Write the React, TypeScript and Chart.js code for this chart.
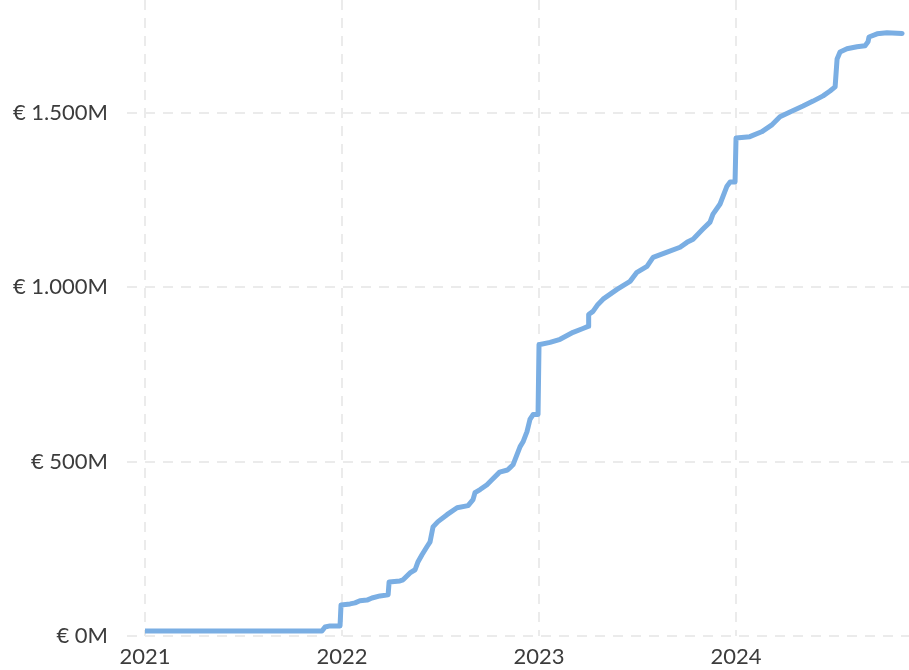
import React, { useEffect, useRef } from "react";
import { Chart, registerables } from "chart.js";

Chart.register(...registerables);

// Cumulative amount (million €) over time (decimal years)
const dates: number[] = [
  2021.0, 2021.5, 2021.898, 2021.914, 2021.939, 2021.99, 2021.995,
  2022.041, 2022.066, 2022.091, 2022.127, 2022.152, 2022.193, 2022.234, 2022.239,
  2022.294, 2022.31, 2022.345, 2022.371, 2022.386, 2022.406, 2022.431, 2022.447,
  2022.462, 2022.487, 2022.533, 2022.584, 2022.64, 2022.665, 2022.675, 2022.701,
  2022.736, 2022.761, 2022.8, 2022.84, 2022.853, 2022.868, 2022.904, 2022.919,
  2022.939, 2022.954, 2022.97, 2022.995, 2023.0,
  2023.005, 2023.056, 2023.107, 2023.173, 2023.223, 2023.249, 2023.252, 2023.274,
  2023.299, 2023.325, 2023.396, 2023.462, 2023.497, 2023.548, 2023.579, 2023.65,
  2023.716, 2023.751, 2023.782, 2023.832, 2023.868, 2023.883, 2023.919, 2023.954,
  2023.97, 2023.995, 2024.0,
  2024.07, 2024.13, 2024.18, 2024.223, 2024.274, 2024.34, 2024.391, 2024.442,
  2024.477, 2024.503, 2024.513, 2024.528, 2024.563, 2024.614, 2024.655, 2024.67,
  2024.675, 2024.716, 2024.766, 2024.843,
];

const amounts: number[] = [
  14, 14, 14, 26, 29, 29, 89,
  92, 95, 101, 103, 109, 115, 118, 155,
  158, 161, 181, 190, 213, 233, 256, 270,
  313, 328, 348, 368, 374, 391, 411, 420,
  434, 448, 470, 476, 483, 491, 543, 557,
  586, 621, 635, 635, 836,
  836, 842, 851, 871, 882, 888, 922, 931,
  951, 966, 994, 1017, 1043, 1060, 1086, 1101,
  1115, 1129, 1138, 1167, 1187, 1210, 1239, 1290,
  1302, 1302, 1428,
  1432, 1446, 1465, 1489, 1503, 1520, 1534, 1549,
  1563, 1575, 1655, 1675, 1684, 1690, 1693, 1704,
  1718, 1727, 1730, 1728,
];

const xTickValues: number[] = [2021, 2022, 2023, 2024];
const xTickLabels: string[] = ["2021", "2022", "2023", "2024"];
const yTickValues: number[] = [0, 500, 1000, 1500];
const yTickLabels: string[] = ["€ 0M", "€ 500M", "€ 1.000M", "€ 1.500M"];

const FONT = "Lato, 'Open Sans', sans-serif";
const GRID = "#ebebeb";
const TEXT = "#3c3c3c";
const DASH = [10, 8];

export default function App() {
  const ref = useRef<HTMLCanvasElement | null>(null);

  useEffect(() => {
    if (!ref.current) return;
    const chart = new Chart(ref.current, {
      type: "line",
      data: {
        datasets: [
          {
            data: dates.map((d, i) => ({ x: d, y: amounts[i] })),
            borderColor: "#7aaee3",
            borderWidth: 5,
            pointRadius: 0,
            tension: 0,
            fill: false,
            borderCapStyle: "round",
            borderJoinStyle: "round",
          },
        ],
      },
      options: {
        animation: false,
        responsive: false,
        layout: { padding: 0 },
        plugins: { legend: { display: false }, tooltip: { enabled: false } },
        scales: {
          x: {
            type: "linear",
            min: 2021,
            max: 2024.878,
            afterBuildTicks: (s: any) => {
              s.ticks = xTickValues.map((v) => ({ value: v }));
            },
            afterFit: (s: any) => {
              s.height = 34;
              s.paddingLeft = 0;
              s.paddingRight = 0;
            },
            grid: {
              color: GRID,
              lineWidth: 2,
              drawTicks: false,
            },
            border: { display: false, dash: DASH },
            ticks: {
              padding: 8,
              autoSkip: false,
              maxRotation: 0,
              color: TEXT,
              font: { family: FONT, size: 22 },
              callback: (v: any) => {
                const i = xTickValues.indexOf(Number(v));
                return i >= 0 ? xTickLabels[i] : "";
              },
            },
          },
          y: {
            type: "linear",
            min: 0,
            max: 1824,
            afterBuildTicks: (s: any) => {
              s.ticks = yTickValues.map((v) => ({ value: v }));
            },
            afterFit: (s: any) => {
              s.width = 145;
              s.paddingTop = 0;
              s.paddingBottom = 0;
            },
            grid: {
              color: GRID,
              lineWidth: 2,
              tickLength: 18,
              tickBorderDash: DASH,
              tickColor: GRID,
            },
            border: { display: false, dash: DASH },
            ticks: {
              padding: 19,
              color: TEXT,
              font: { family: FONT, size: 22 },
              callback: (v: any) => {
                const i = yTickValues.indexOf(Number(v));
                return i >= 0 ? yTickLabels[i] : "";
              },
            },
          },
        },
      },
    } as any);
    return () => chart.destroy();
  }, []);

  return (
    <div style={{ position: "fixed", left: 0, top: 0, width: 909, height: 670, background: "#fff" }}>
      <canvas ref={ref} width={909} height={670} style={{ display: "block" }} />
    </div>
  );
}
